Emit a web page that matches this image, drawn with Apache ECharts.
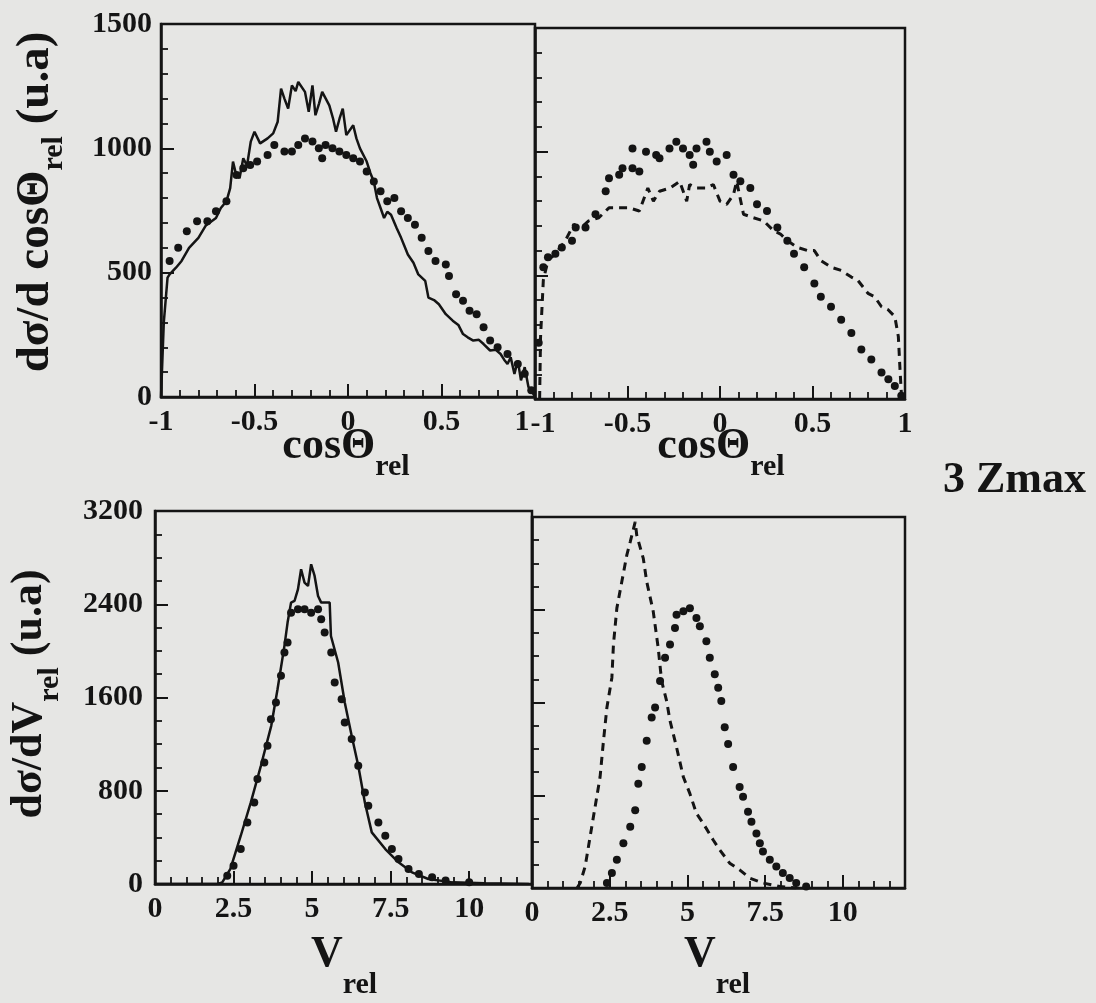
<!DOCTYPE html>
<html>
<head>
<meta charset="utf-8">
<script src="https://cdn.jsdelivr.net/npm/echarts@6/dist/echarts.min.js"></script>
<style>
html,body{margin:0;padding:0;background:#e6e6e4;}
#c{width:1096px;height:1003px;}
</style>
</head>
<body>
<div id="c"></div>
<script>
// ---------- tick labels / axis ranges ----------
const cosTicks = [-1, -0.5, 0, 0.5, 1];
const vTicks = [0, 2.5, 5, 7.5, 10];
const yTopTicks = [0, 500, 1000, 1500];
const yBotTicks = [0, 800, 1600, 2400, 3200];

// ---------- top-left: cosΘrel, solid histogram + dots ----------
const tlLine = [
  [-1,0],[-0.985,300],[-0.965,480],[-0.954,493],[-0.92,520],[-0.89,547],[-0.85,600],[-0.8,640],
  [-0.76,690],[-0.706,720],[-0.68,760],[-0.65,787],[-0.63,840],[-0.615,947],[-0.6,900],
  [-0.58,880],[-0.56,960],[-0.54,930],[-0.52,1027],[-0.5,1067],[-0.47,1020],[-0.43,1040],
  [-0.4,1060],[-0.376,1107],[-0.358,1240],[-0.34,1200],[-0.32,1160],[-0.3,1253],[-0.28,1230],
  [-0.266,1267],[-0.23,1227],[-0.21,1147],[-0.19,1253],[-0.174,1133],[-0.155,1180],
  [-0.138,1227],[-0.1,1173],[-0.08,1120],[-0.064,1067],[-0.045,1120],[-0.028,1160],
  [-0.009,1053],[0.028,1093],[0.045,1040],[0.064,1000],[0.1,947],[0.12,900],[0.138,867],
  [0.155,800],[0.174,760],[0.193,720],[0.21,745],[0.23,733],[0.26,680],[0.284,640],
  [0.3,610],[0.32,573],[0.35,540],[0.376,493],[0.413,467],[0.43,400],[0.46,390],
  [0.486,373],[0.523,333],[0.56,307],[0.59,290],[0.615,253],[0.64,240],[0.67,227],
  [0.7,230],[0.725,213],[0.76,187],[0.79,190],[0.816,173],[0.835,150],[0.853,133],
  [0.87,160],[0.89,93],[0.908,147],[0.925,67],[0.945,120],[0.965,40],[0.98,27],[1,0]
];
const tlDots = [
  [-0.954,547],[-0.908,600],[-0.862,667],[-0.807,707],[-0.752,707],[-0.706,747],[-0.65,787],
  [-0.596,893],[-0.56,920],[-0.523,933],[-0.486,947],[-0.43,973],[-0.394,1013],[-0.34,987],
  [-0.3,987],[-0.266,1013],[-0.23,1040],[-0.19,1027],[-0.156,1000],[-0.138,960],[-0.12,1013],
  [-0.083,1000],[-0.046,987],[-0.009,973],[0.028,960],[0.064,947],[0.1,907],[0.138,867],
  [0.174,827],[0.21,787],[0.248,800],[0.284,747],[0.32,720],[0.358,693],[0.394,640],
  [0.43,587],[0.468,547],[0.523,533],[0.54,487],[0.578,413],[0.615,387],[0.65,347],
  [0.688,333],[0.725,280],[0.76,227],[0.8,200],[0.853,173],[0.908,133],[0.945,93],[0.98,27]
];

// ---------- top-right: cosΘrel, dashed + dots ----------
const trLine = [
  [-0.975,0],[-0.97,250],[-0.955,480],[-0.93,560],[-0.89,587],[-0.836,640],[-0.79,707],
  [-0.755,690],[-0.71,720],[-0.655,733],[-0.6,773],[-0.527,773],[-0.49,773],[-0.436,760],
  [-0.39,853],[-0.36,800],[-0.327,840],[-0.27,853],[-0.218,880],[-0.18,800],[-0.164,867],
  [-0.127,853],[-0.073,853],[-0.036,867],[0,800],[0.036,787],[0.073,827],[0.09,880],
  [0.127,747],[0.18,733],[0.236,720],[0.29,680],[0.327,667],[0.364,640],[0.418,613],
  [0.473,600],[0.51,600],[0.545,560],[0.6,533],[0.655,520],[0.71,493],[0.745,480],
  [0.8,427],[0.836,413],[0.873,373],[0.91,360],[0.945,333],[0.964,253],[0.973,120],[0.982,0]
];
const trDots = [
  [-0.98,227],[-0.955,533],[-0.93,573],[-0.89,587],[-0.855,613],[-0.8,640],[-0.78,693],
  [-0.727,693],[-0.673,747],[-0.618,840],[-0.6,893],[-0.545,907],[-0.527,933],[-0.473,933],
  [-0.436,920],[-0.473,1013],[-0.4,1000],[-0.345,987],[-0.327,973],[-0.273,1013],[-0.236,1040],
  [-0.2,1013],[-0.164,987],[-0.145,947],[-0.127,1013],[-0.073,1040],[-0.055,1000],[-0.018,960],
  [0.036,987],[0.073,907],[0.11,880],[0.164,853],[0.2,787],[0.254,760],[0.31,693],
  [0.364,640],[0.4,587],[0.455,533],[0.51,467],[0.545,413],[0.6,373],[0.655,320],
  [0.71,267],[0.764,200],[0.818,160],[0.873,107],[0.91,80],[0.945,53],[0.98,13]
];

// ---------- bottom-left: Vrel, solid + dots ----------
const blLine = [
  [0,0],[2.0,0],[2.14,14],[2.4,129],[2.73,414],[3.05,700],[3.37,1014],[3.7,1357],[3.9,1671],
  [4.12,2043],[4.22,2243],[4.33,2414],[4.44,2428],[4.55,2528],[4.65,2700],[4.76,2586],
  [4.87,2557],[4.97,2743],[5.08,2643],[5.19,2471],[5.29,2414],[5.56,2414],[5.6,2128],
  [5.83,1900],[6.04,1557],[6.26,1271],[6.47,1014],[6.68,700],[6.9,443],[7.33,300],
  [7.75,186],[8.18,100],[8.7,43],[9.47,14],[10.5,6],[11.9,0]
];
const blDots = [
  [2.3,71],[2.5,157],[2.73,300],[2.94,528],[3.16,700],[3.26,900],[3.48,1043],[3.58,1186],
  [3.69,1414],[3.85,1557],[4.01,1786],[4.12,1986],[4.22,2071],[4.33,2328],[4.55,2357],
  [4.76,2357],[4.97,2328],[5.19,2357],[5.29,2271],[5.4,2157],[5.61,1986],[5.72,1728],
  [5.94,1586],[6.04,1386],[6.26,1243],[6.47,1014],[6.68,786],[6.79,671],[7.11,528],
  [7.33,414],[7.54,300],[7.75,214],[8.07,129],[8.4,86],[8.82,57],[9.25,29],[10,14]
];

// ---------- bottom-right: Vrel, dashed + dots ----------
const brLine = [
  [1.45,0],[1.55,43],[1.71,186],[1.87,443],[2.03,700],[2.19,957],[2.3,1271],[2.41,1557],
  [2.57,1814],[2.62,2100],[2.73,2414],[2.89,2643],[3.05,2871],[3.16,2986],[3.32,3157],
  [3.37,3043],[3.58,2843],[3.69,2643],[3.9,2386],[4.06,2071],[4.17,1786],[4.33,1614],
  [4.44,1443],[4.65,1214],[4.87,957],[5.08,814],[5.29,643],[5.51,557],[5.83,414],
  [6.04,329],[6.36,214],[6.68,157],[7.0,86],[7.43,43],[7.97,14],[8.5,0]
];
const brDots = [
  [2.41,43],[2.57,129],[2.73,243],[2.94,386],[3.16,528],[3.32,671],[3.42,900],[3.53,1043],
  [3.69,1271],[3.85,1471],[3.96,1557],[4.12,1786],[4.28,1986],[4.44,2100],[4.6,2243],
  [4.65,2357],[4.87,2386],[5.08,2414],[5.29,2328],[5.4,2257],[5.61,2128],[5.72,1986],
  [5.88,1843],[5.99,1728],[6.09,1614],[6.2,1386],[6.31,1243],[6.47,1043],[6.68,871],
  [6.79,786],[6.95,657],[7.06,571],[7.22,471],[7.33,386],[7.43,314],[7.65,243],
  [7.86,186],[8.07,129],[8.29,86],[8.5,43],[8.82,14]
];

// ---------- chart ----------
const FONT = '"Liberation Serif","Times New Roman",serif';
const INK = '#141414';
const chart = echarts.init(document.getElementById('c'), null, {renderer: 'canvas'});

function xAxisBase(gridIndex, min, max, interval, minorSplit, ticks) {
  return {
    type: 'value', gridIndex, min, max, interval,
    axisLine: {show: true, onZero: false, lineStyle: {color: INK, width: 2.5}},
    axisTick: {show: true, inside: true, length: 13, lineStyle: {color: INK, width: 2}},
    minorTick: {show: true, splitNumber: minorSplit, length: 7, lineStyle: {color: INK, width: 1.8}},
    splitLine: {show: false},
    axisLabel: {
      show: true, margin: 10, color: INK, fontFamily: FONT, fontWeight: 'bold', fontSize: 30,
      formatter: v => (ticks.indexOf(v) >= 0 ? String(v) : '')
    }
  };
}
function yAxisBase(gridIndex, min, max, interval, minorSplit, showLabel, ticks, margin) {
  return {
    type: 'value', gridIndex, min, max, interval,
    axisLine: {show: true, onZero: false, lineStyle: {color: INK, width: 2.5}},
    axisTick: {show: true, inside: true, length: 13, lineStyle: {color: INK, width: 2}},
    minorTick: {show: true, splitNumber: minorSplit, length: 7, lineStyle: {color: INK, width: 1.8}},
    splitLine: {show: false},
    axisLabel: {
      show: showLabel, margin: margin, color: INK, fontFamily: FONT, fontWeight: 'bold', fontSize: 30,
      formatter: v => (ticks.indexOf(v) >= 0 ? String(v) : '')
    }
  };
}

const grids = [
  {left: 161, top: 24, width: 374, height: 373},
  {left: 535, top: 28, width: 370, height: 371},
  {left: 155, top: 511, width: 377, height: 373},
  {left: 532, top: 517, width: 373, height: 371}
].map(g => Object.assign(g, {show: true, borderColor: INK, borderWidth: 2.5, backgroundColor: 'transparent'}));

const xAxes = [
  xAxisBase(0, -1, 1, 0.5, 5, cosTicks),
  xAxisBase(1, -1, 1, 0.5, 5, cosTicks),
  xAxisBase(2, 0, 12, 2.5, 5, vTicks),
  xAxisBase(3, 0, 12, 2.5, 5, vTicks)
];
// "1-1" junction at the shared edge of the two top panels
xAxes[0].axisLabel.formatter = v => v === 1 ? '{r|1}' : (cosTicks.indexOf(v) >= 0 ? String(v) : '');
xAxes[0].axisLabel.rich = {r: {fontFamily: FONT, fontWeight: 'bold', fontSize: 30, color: INK, padding: [0, 26, 0, 0]}};
xAxes[1].axisLabel.formatter = v => v === -1 ? '{l|-1}' : (cosTicks.indexOf(v) >= 0 ? String(v) : '');
xAxes[1].axisLabel.rich = {l: {fontFamily: FONT, fontWeight: 'bold', fontSize: 30, color: INK, padding: [0, 0, 0, 16]}};

const yAxes = [
  yAxisBase(0, 0, 1500, 500, 5, true, yTopTicks, 9),
  yAxisBase(1, 0, 1500, 500, 5, false, yTopTicks, 9),
  yAxisBase(2, 0, 3200, 800, 4, true, yBotTicks, 12),
  yAxisBase(3, 0, 3200, 800, 4, false, yBotTicks, 12)
];

function lineSeries(i, data, dashed) {
  return {
    type: 'line', xAxisIndex: i, yAxisIndex: i, data, showSymbol: false, symbol: 'none',
    lineStyle: {color: INK, width: dashed ? 3 : 2.5, type: dashed ? [8, 6] : 'solid', opacity: 1},
    z: 3, silent: true
  };
}
function dotSeries(i, data) {
  return {
    type: 'scatter', xAxisIndex: i, yAxisIndex: i, data, symbol: 'circle', symbolSize: 8,
    itemStyle: {color: INK, opacity: 1}, z: 4, silent: true
  };
}

const subTitle = (x, y, main, sub, subLH, rot, tail) => ({
  type: 'text', x, y, rotation: rot || 0,
  style: {
    text: '{m|' + main + '}{s|' + sub + '}' + (tail ? '{m|' + tail + '}' : ''),
    align: 'center', verticalAlign: 'middle',
    rich: {
      m: {fontFamily: FONT, fontWeight: 'bold', fontSize: 44, lineHeight: 44, verticalAlign: 'top', fill: INK},
      s: {fontFamily: FONT, fontWeight: 'bold', fontSize: 30, lineHeight: subLH, fill: INK}
    }
  }
});
const subTitleY = (x, y, main, sub, size) => {
  const t = subTitle(x, y, main, sub, 84, Math.PI / 2, ' (u.a)');
  t.style.rich.m.fontSize = size; t.style.rich.m.lineHeight = size;
  return t;
};

chart.setOption({
  backgroundColor: '#e6e6e4',
  animation: false,
  grid: grids,
  xAxis: xAxes,
  yAxis: yAxes,
  series: [
    lineSeries(0, tlLine, false), dotSeries(0, tlDots),
    lineSeries(1, trLine, true), dotSeries(1, trDots),
    lineSeries(2, blLine, false), dotSeries(2, blDots),
    lineSeries(3, brLine, true), dotSeries(3, brDots)
  ],
  graphic: [
    subTitle(346, 467, 'cosΘ', 'rel', 84),
    subTitle(721, 467, 'cosΘ', 'rel', 84),
    subTitle(344, 985, 'V', 'rel', 104),
    subTitle(717, 985, 'V', 'rel', 104),
    subTitleY(54, 202, 'dσ/d cosΘ', 'rel', 47),
    subTitleY(50, 694, 'dσ/dV', 'rel', 44),
    {type: 'text', x: 943, y: 481, style: {text: '3 Zmax', fontFamily: FONT, fontWeight: 'bold', fontSize: 44, fill: INK, align: 'left', verticalAlign: 'middle'}}
  ]
});
</script>
</body>
</html>
